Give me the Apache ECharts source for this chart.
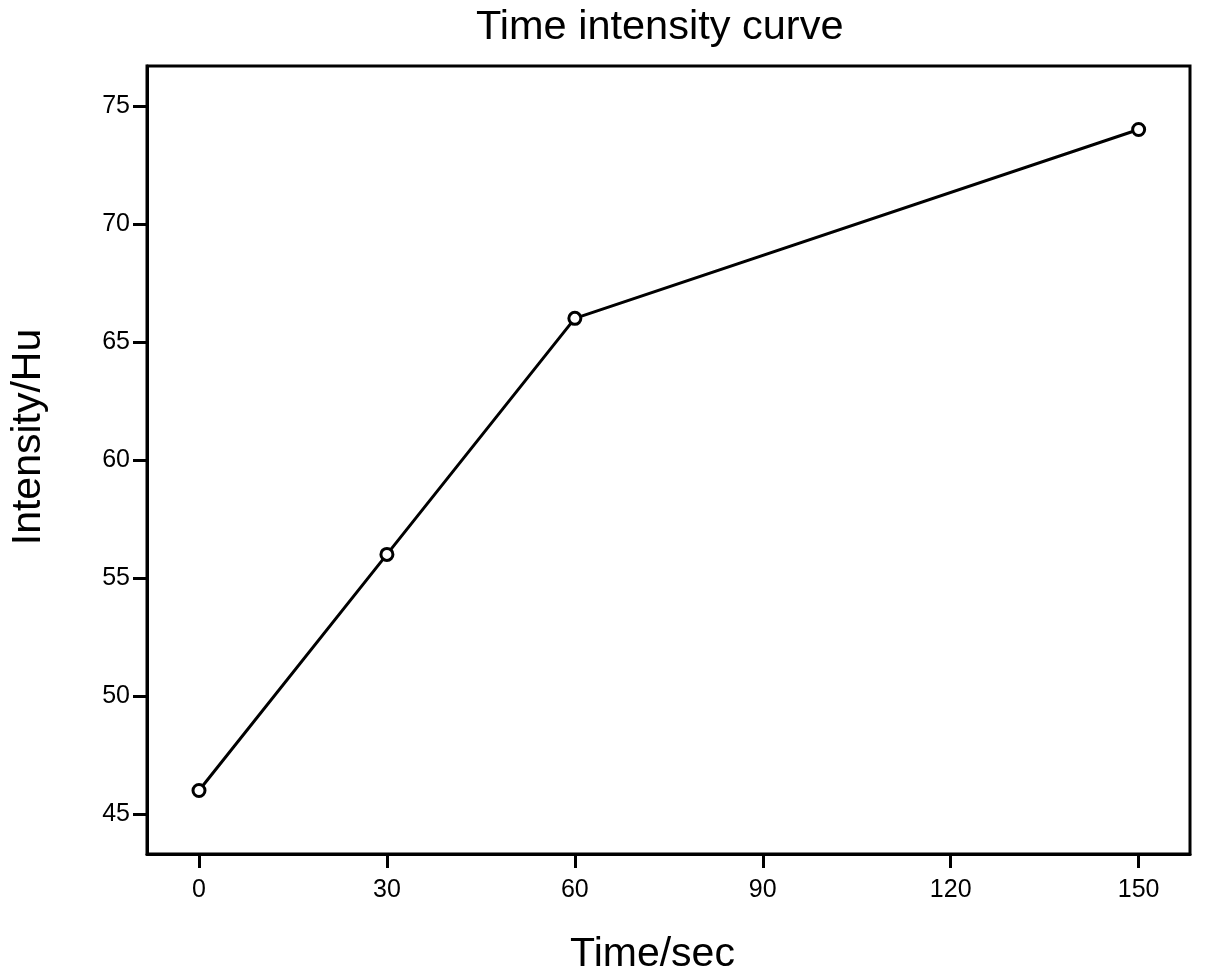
<!DOCTYPE html>
<html>
<head>
<meta charset="utf-8">
<script src="https://cdn.jsdelivr.net/npm/echarts@6/dist/echarts.min.js"></script>
<style>html,body{margin:0;padding:0;background:#fff}#c{width:1205px;height:980px}</style>
</head>
<body>
<div id="c"></div>
<script>
const timeSec = [0, 30, 60, 150];
const intensityHu = [46, 56, 66, 74];
const xTicks = [0, 30, 60, 90, 120, 150];
const yTicks = [45, 50, 55, 60, 65, 70, 75];

const FONT = '"Liberation Sans", Arial, sans-serif';
const chart = echarts.init(document.getElementById('c'), null, {renderer: 'canvas'});
chart.setOption({
  animation: false,
  backgroundColor: '#fff',
  title: {
    text: 'Time intensity curve',
    left: 471,
    top: 2,
    textStyle: {fontFamily: FONT, fontSize: 41.5, fontWeight: 'normal', color: '#000'}
  },
  grid: {left: 145, right: 15, top: 66, bottom: 123, show: true, borderColor: '#000', borderWidth: 3},
  xAxis: {
    type: 'value', min: -8.3, max: 158.2,
    name: 'Time/sec', nameLocation: 'middle', nameGap: 80,
    nameTextStyle: {fontFamily: FONT, fontSize: 41, color: '#000', padding: [0, 32, 0, 0]},
    axisLine: {show: true, onZero: false, lineStyle: {color: '#000', width: 3}},
    axisTick: {show: true, length: 14, customValues: xTicks, lineStyle: {color: '#000', width: 3}},
    axisLabel: {customValues: xTicks, margin: 24, fontFamily: FONT, fontSize: 25, color: '#000'},
    splitLine: {show: false}
  },
  yAxis: {
    type: 'value', min: 43.31, max: 76.69,
    name: 'Intensity/Hu', nameLocation: 'middle', nameGap: 98, nameRotate: 90,
    nameTextStyle: {fontFamily: FONT, fontSize: 41, color: '#000', padding: [0, 0, 0, 46]},
    axisLine: {show: true, onZero: false, lineStyle: {color: '#000', width: 3}},
    axisTick: {show: true, length: 14, customValues: yTicks, lineStyle: {color: '#000', width: 3}},
    axisLabel: {customValues: yTicks, margin: 17, fontFamily: FONT, fontSize: 25, color: '#000'},
    splitLine: {show: false}
  },
  series: [{
    type: 'line',
    data: timeSec.map((t, i) => [t, intensityHu[i]]),
    symbol: 'circle',
    symbolSize: 12,
    showAllSymbol: true,
    lineStyle: {color: '#000', width: 3},
    itemStyle: {color: '#fff', borderColor: '#000', borderWidth: 3},
    z: 3
  }]
});
</script>
</body>
</html>
